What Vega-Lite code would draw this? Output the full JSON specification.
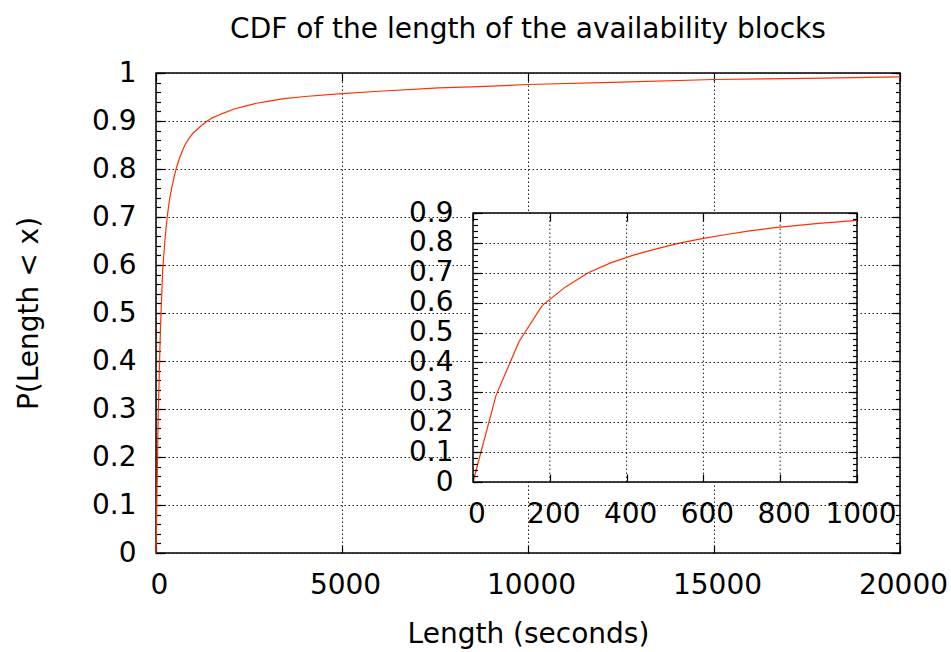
{
  "$schema": "https://vega.github.io/schema/vega-lite/v6.json",
  "width": 744,
  "height": 480,
  "autosize": {"type": "none"},
  "padding": {"left": 156, "top": 73, "right": 51, "bottom": 99},
  "background": "white",
  "title": {"text": "CDF of the length of the availability blocks", "font": "DejaVu Sans", "fontSize": 28, "fontWeight": "normal", "color": "black", "anchor": "middle", "frame": "group", "baseline": "alphabetic", "offset": -7},
  "datasets": {
    "cdf": [
      {"len": 0, "p": 0},
      {"len": 60, "p": 0.29},
      {"len": 120, "p": 0.47},
      {"len": 180, "p": 0.59},
      {"len": 240, "p": 0.652},
      {"len": 300, "p": 0.7},
      {"len": 360, "p": 0.734},
      {"len": 420, "p": 0.76},
      {"len": 480, "p": 0.781},
      {"len": 540, "p": 0.8},
      {"len": 600, "p": 0.815},
      {"len": 660, "p": 0.828},
      {"len": 720, "p": 0.84},
      {"len": 780, "p": 0.85},
      {"len": 840, "p": 0.858},
      {"len": 900, "p": 0.865},
      {"len": 960, "p": 0.871},
      {"len": 1000, "p": 0.875},
      {"len": 1200, "p": 0.889},
      {"len": 1380, "p": 0.9},
      {"len": 1500, "p": 0.906},
      {"len": 1800, "p": 0.916},
      {"len": 2100, "p": 0.925},
      {"len": 2400, "p": 0.931},
      {"len": 2700, "p": 0.937},
      {"len": 3000, "p": 0.941},
      {"len": 3400, "p": 0.946},
      {"len": 4000, "p": 0.951},
      {"len": 5000, "p": 0.957},
      {"len": 6000, "p": 0.962},
      {"len": 7600, "p": 0.969},
      {"len": 8700, "p": 0.9715},
      {"len": 10000, "p": 0.976},
      {"len": 12500, "p": 0.981},
      {"len": 15000, "p": 0.9865},
      {"len": 17500, "p": 0.989},
      {"len": 20000, "p": 0.992}
    ]
  },
  "data": {"name": "cdf"},
  "layer": [
    {
      "layer": [
        {
          "mark": {"type": "line", "color": "#ff3000", "strokeWidth": 1.2},
          "encoding": {
            "x": {"field": "len", "type": "quantitative", "scale": {"domain": [0, 20000], "nice": false, "zero": false},
              "axis": {"orient": "bottom", "values": [0, 5000, 10000, 15000, 20000], "format": "d", "ticks": false, "grid": true, "labelPadding": 18, "labelOffset": 3, "title": "Length (seconds)", "titlePadding": 21}},
            "y": {"field": "p", "type": "quantitative", "scale": {"domain": [0, 1], "nice": false, "zero": false},
              "axis": {"orient": "left", "values": [0, 0.1, 0.2, 0.3, 0.4, 0.5, 0.6, 0.7, 0.8, 0.9, 1], "format": "~g", "ticks": false, "grid": true, "labelPadding": 20, "title": "P(Length < x)", "titlePadding": 48}}
          }
        },
        {
          "mark": {"type": "line", "opacity": 0},
          "encoding": {
            "x": {"field": "len", "type": "quantitative", "scale": {"domain": [0, 20000], "nice": false, "zero": false},
              "axis": {"orient": "top", "values": [0, 5000, 10000, 15000, 20000], "labels": false, "tickSize": -8, "grid": false, "title": null}},
            "y": {"field": "p", "type": "quantitative", "scale": {"domain": [0, 1], "nice": false, "zero": false},
              "axis": {"orient": "right", "values": [0, 0.1, 0.2, 0.3, 0.4, 0.5, 0.6, 0.7, 0.8, 0.9, 1], "labels": false, "tickSize": -9, "grid": false, "title": null}}
          }
        },
        {
          "mark": {"type": "line", "opacity": 0},
          "encoding": {
            "x": {"field": "len", "type": "quantitative", "scale": {"domain": [0, 20000], "nice": false, "zero": false},
              "axis": {"orient": "bottom", "values": [0, 5000, 10000, 15000, 20000], "labels": false, "tickSize": -8, "grid": false, "title": null}},
            "y": {"field": "p", "type": "quantitative", "scale": {"domain": [0, 1], "nice": false, "zero": false},
              "axis": {"orient": "left", "values": [0, 0.1, 0.2, 0.3, 0.4, 0.5, 0.6, 0.7, 0.8, 0.9, 1], "labels": false, "tickSize": -9, "grid": false, "title": null}}
          }
        },
        {
          "mark": {"type": "line", "opacity": 0},
          "encoding": {
            "x": {"field": "len", "type": "quantitative", "scale": {"domain": [0, 20000], "nice": false, "zero": false}, "axis": null},
            "y": {"field": "p", "type": "quantitative", "scale": {"domain": [0, 1], "nice": false, "zero": false},
              "axis": {"orient": "left", "values": [0, 0.02, 0.04, 0.06, 0.08, 0.1, 0.12, 0.14, 0.16, 0.18, 0.2, 0.22, 0.24, 0.26, 0.28, 0.3, 0.32, 0.34, 0.36, 0.38, 0.4, 0.42, 0.44, 0.46, 0.48, 0.5, 0.52, 0.54, 0.56, 0.58, 0.6, 0.62, 0.64, 0.66, 0.68, 0.7, 0.72, 0.74, 0.76, 0.78, 0.8, 0.82, 0.84, 0.86, 0.88, 0.9, 0.92, 0.94, 0.96, 0.98, 1], "labels": false, "tickSize": -4.5, "grid": false, "title": null}}
          }
        },
        {
          "mark": {"type": "line", "opacity": 0},
          "encoding": {
            "x": {"field": "len", "type": "quantitative", "scale": {"domain": [0, 20000], "nice": false, "zero": false}, "axis": null},
            "y": {"field": "p", "type": "quantitative", "scale": {"domain": [0, 1], "nice": false, "zero": false},
              "axis": {"orient": "right", "values": [0, 0.02, 0.04, 0.06, 0.08, 0.1, 0.12, 0.14, 0.16, 0.18, 0.2, 0.22, 0.24, 0.26, 0.28, 0.3, 0.32, 0.34, 0.36, 0.38, 0.4, 0.42, 0.44, 0.46, 0.48, 0.5, 0.52, 0.54, 0.56, 0.58, 0.6, 0.62, 0.64, 0.66, 0.68, 0.7, 0.72, 0.74, 0.76, 0.78, 0.8, 0.82, 0.84, 0.86, 0.88, 0.9, 0.92, 0.94, 0.96, 0.98, 1], "labels": false, "tickSize": -4.5, "grid": false, "title": null}}
          }
        }
      ],
      "resolve": {"axis": {"x": "independent", "y": "independent"}}
    },
    {
      "layer": [
        {
          "data": {"values": [{}]},
          "mark": {"type": "rect", "fill": "white", "stroke": "black", "strokeWidth": 1.5},
          "encoding": {
            "x": {"datum": 0, "type": "quantitative", "scale": {"domain": [0, 1000], "range": [317, 701], "nice": false, "zero": false}, "axis": null},
            "x2": {"datum": 1000},
            "y": {"datum": 0, "type": "quantitative", "scale": {"domain": [0, 0.9], "range": [409, 140], "nice": false, "zero": false}, "axis": null},
            "y2": {"datum": 0.9}
          }
        },
        {
          "data": {"values": [{"g": 200}, {"g": 400}, {"g": 600}, {"g": 800}]},
          "mark": {"type": "rule", "color": "#222222", "strokeDash": [1.5, 2.5], "strokeWidth": 1},
          "encoding": {
            "x": {"field": "g", "type": "quantitative", "scale": {"domain": [0, 1000], "range": [317, 701], "nice": false, "zero": false}, "axis": null},
            "y": {"datum": 0, "type": "quantitative", "scale": {"domain": [0, 0.9], "range": [409, 140], "nice": false, "zero": false}, "axis": null},
            "y2": {"datum": 0.9}
          }
        },
        {
          "transform": [{"filter": "datum.len <= 1000"}],
          "mark": {"type": "line", "color": "#ff3000", "strokeWidth": 1.2},
          "encoding": {
            "x": {"field": "len", "type": "quantitative", "scale": {"domain": [0, 1000], "range": [317, 701], "nice": false, "zero": false},
              "axis": {"orient": "bottom", "offset": -71, "values": [0, 200, 400, 600, 800, 1000], "format": "d", "ticks": false, "grid": false, "labelPadding": 18, "labelOffset": 3.5, "title": null, "zindex": 1}},
            "y": {"field": "p", "type": "quantitative", "scale": {"domain": [0, 0.9], "range": [409, 140], "nice": false, "zero": false},
              "axis": {"orient": "left", "offset": -317, "values": [0, 0.1, 0.2, 0.3, 0.4, 0.5, 0.6, 0.7, 0.8, 0.9], "format": "~g", "ticks": false, "grid": true, "labelPadding": 20, "title": null, "zindex": 1}}
          }
        },
        {
          "mark": {"type": "line", "opacity": 0},
          "encoding": {
            "x": {"field": "len", "type": "quantitative", "scale": {"domain": [0, 1000], "range": [317, 701], "nice": false, "zero": false},
              "axis": {"orient": "top", "offset": -140, "values": [0, 200, 400, 600, 800, 1000], "labels": false, "tickSize": -8, "grid": false, "title": null, "zindex": 1}},
            "y": {"field": "p", "type": "quantitative", "scale": {"domain": [0, 0.9], "range": [409, 140], "nice": false, "zero": false},
              "axis": {"orient": "right", "offset": -43, "values": [0, 0.1, 0.2, 0.3, 0.4, 0.5, 0.6, 0.7, 0.8, 0.9], "labels": false, "tickSize": -9, "grid": false, "title": null, "zindex": 1}}
          }
        },
        {
          "mark": {"type": "line", "opacity": 0},
          "encoding": {
            "x": {"field": "len", "type": "quantitative", "scale": {"domain": [0, 1000], "range": [317, 701], "nice": false, "zero": false},
              "axis": {"orient": "bottom", "offset": -71, "values": [0, 200, 400, 600, 800, 1000], "labels": false, "tickSize": -8, "grid": false, "title": null, "zindex": 1}},
            "y": {"field": "p", "type": "quantitative", "scale": {"domain": [0, 0.9], "range": [409, 140], "nice": false, "zero": false},
              "axis": {"orient": "left", "offset": -317, "values": [0, 0.1, 0.2, 0.3, 0.4, 0.5, 0.6, 0.7, 0.8, 0.9], "labels": false, "tickSize": -9, "grid": false, "title": null, "zindex": 1}}
          }
        },
        {
          "mark": {"type": "line", "opacity": 0},
          "encoding": {
            "x": {"field": "len", "type": "quantitative", "scale": {"domain": [0, 1000], "range": [317, 701], "nice": false, "zero": false}, "axis": null},
            "y": {"field": "p", "type": "quantitative", "scale": {"domain": [0, 0.9], "range": [409, 140], "nice": false, "zero": false},
              "axis": {"orient": "left", "offset": -317, "values": [0, 0.02, 0.04, 0.06, 0.08, 0.1, 0.12, 0.14, 0.16, 0.18, 0.2, 0.22, 0.24, 0.26, 0.28, 0.3, 0.32, 0.34, 0.36, 0.38, 0.4, 0.42, 0.44, 0.46, 0.48, 0.5, 0.52, 0.54, 0.56, 0.58, 0.6, 0.62, 0.64, 0.66, 0.68, 0.7, 0.72, 0.74, 0.76, 0.78, 0.8, 0.82, 0.84, 0.86, 0.88, 0.9], "labels": false, "tickSize": -4.5, "grid": false, "title": null, "zindex": 1}}
          }
        },
        {
          "mark": {"type": "line", "opacity": 0},
          "encoding": {
            "x": {"field": "len", "type": "quantitative", "scale": {"domain": [0, 1000], "range": [317, 701], "nice": false, "zero": false}, "axis": null},
            "y": {"field": "p", "type": "quantitative", "scale": {"domain": [0, 0.9], "range": [409, 140], "nice": false, "zero": false},
              "axis": {"orient": "right", "offset": -43, "values": [0, 0.02, 0.04, 0.06, 0.08, 0.1, 0.12, 0.14, 0.16, 0.18, 0.2, 0.22, 0.24, 0.26, 0.28, 0.3, 0.32, 0.34, 0.36, 0.38, 0.4, 0.42, 0.44, 0.46, 0.48, 0.5, 0.52, 0.54, 0.56, 0.58, 0.6, 0.62, 0.64, 0.66, 0.68, 0.7, 0.72, 0.74, 0.76, 0.78, 0.8, 0.82, 0.84, 0.86, 0.88, 0.9], "labels": false, "tickSize": -4.5, "grid": false, "title": null, "zindex": 1}}
          }
        }
      ],
      "resolve": {"axis": {"x": "independent", "y": "independent"}}
    }
  ],
  "resolve": {"scale": {"x": "independent", "y": "independent"}},
  "config": {
    "view": {"stroke": "black", "strokeWidth": 1.5},
    "axis": {
      "domain": false,
      "labelFont": "DejaVu Sans",
      "labelFontSize": 28,
      "labelColor": "black",
      "titleFont": "DejaVu Sans",
      "titleFontSize": 28,
      "titleFontWeight": "normal",
      "titleColor": "black",
      "tickColor": "black",
      "tickWidth": 1.2,
      "labelFlush": false,
      "labelOverlap": false,
      "gridColor": "#222222",
      "gridDash": [1.5, 2.5],
      "gridWidth": 1,
      "gridOpacity": 1
    }
  }
}
